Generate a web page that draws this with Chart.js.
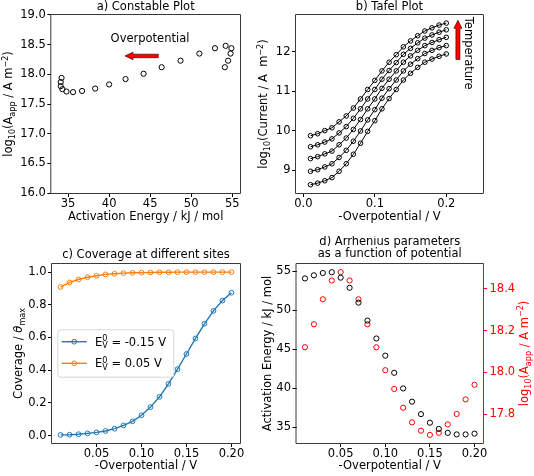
<!DOCTYPE html>
<html>
<head>
<meta charset="utf-8">
<script src="https://cdn.jsdelivr.net/npm/chart.js@4.4.1/dist/chart.umd.min.js"></script>
<style>
  body { margin: 0; background: #fff; }
  #fig { position: relative; width: 534px; height: 476px; overflow: hidden; }
  #fig canvas { position: absolute; }
</style>
</head>
<body>
<div id="fig">
  <canvas id="chartA" width="255" height="236" style="left:0;top:0"></canvas>
  <canvas id="chartB" width="279" height="236" style="left:255px;top:0"></canvas>
  <canvas id="chartC" width="255" height="240" style="left:0;top:236px"></canvas>
  <canvas id="chartD" width="279" height="240" style="left:255px;top:236px"></canvas>
</div>
<script>
// values
const overpotential = [0.01, 0.02, 0.03, 0.04, 0.05, 0.06, 0.07, 0.08, 0.09, 0.10, 0.11, 0.12, 0.13, 0.14, 0.15, 0.16, 0.17, 0.18, 0.19, 0.20];
const activationEnergy = [54.1, 54.5, 54.8, 54.9, 54.2, 52.9, 51.0, 48.7, 46.4, 44.2, 42.0, 40.0, 38.3, 36.7, 35.6, 34.8, 34.3, 34.1, 34.1, 34.2];
const logPrefactor = [18.12, 18.23, 18.35, 18.44, 18.48, 18.44, 18.35, 18.23, 18.12, 18.01, 17.92, 17.83, 17.76, 17.72, 17.70, 17.71, 17.75, 17.80, 17.87, 17.94];

// b) tafel curves, lowest to highest temperature
const tafelT1 = [8.64, 8.68, 8.74, 8.82, 8.98, 9.17, 9.41, 9.69, 9.99, 10.26, 10.56, 10.82, 11.05, 11.29, 11.46, 11.61, 11.74, 11.82, 11.89, 11.95];
const tafelT2 = [8.98, 9.02, 9.09, 9.17, 9.33, 9.51, 9.74, 10.00, 10.28, 10.54, 10.83, 11.07, 11.29, 11.52, 11.69, 11.83, 11.96, 12.04, 12.11, 12.16];
const tafelT3 = [9.30, 9.35, 9.42, 9.49, 9.65, 9.82, 10.04, 10.29, 10.56, 10.81, 11.08, 11.31, 11.52, 11.74, 11.90, 12.04, 12.16, 12.24, 12.31, 12.37];
const tafelT4 = [9.60, 9.65, 9.72, 9.80, 9.95, 10.11, 10.32, 10.56, 10.81, 11.05, 11.31, 11.53, 11.73, 11.94, 12.09, 12.23, 12.35, 12.43, 12.50, 12.56];
const tafelT5 = [9.88, 9.93, 10.01, 10.08, 10.23, 10.38, 10.58, 10.81, 11.05, 11.28, 11.52, 11.74, 11.93, 12.13, 12.28, 12.41, 12.53, 12.61, 12.68, 12.73];

// c) coverage
const coverageLow = [0.004, 0.005, 0.008, 0.013, 0.019, 0.028, 0.042, 0.062, 0.087, 0.124, 0.174, 0.237, 0.316, 0.406, 0.499, 0.594, 0.684, 0.763, 0.826, 0.874];
const coverageHigh = [0.909, 0.937, 0.955, 0.969, 0.978, 0.986, 0.990, 0.994, 0.996, 0.997, 0.998, 0.999, 0.999, 1.0, 1.0, 1.0, 1.0, 1.0, 1.0, 1.0];
const siteEnergies = ['-0.15', '0.05'];

// tick labels
const ticksA_x = [35, 40, 45, 50, 55];
const ticksA_y = [16.0, 16.5, 17.0, 17.5, 18.0, 18.5, 19.0];
const ticksB_x = [0.0, 0.1, 0.2];
const ticksB_y = [9, 10, 11, 12];
const ticksCD_x = [0.05, 0.10, 0.15, 0.20];
const ticksC_y = [0.0, 0.2, 0.4, 0.6, 0.8, 1.0];
const ticksD_y = [35, 40, 45, 50, 55];
const ticksD_y2 = [17.8, 18.0, 18.2, 18.4];

const FS = 11.5;
const FAM = '"DejaVu Sans", sans-serif';
Chart.defaults.font.family = FAM;
Chart.defaults.font.size = FS;
Chart.defaults.color = '#000';
Chart.defaults.animation = false;

function pts(ys) { return overpotential.map((x, i) => ({ x: x, y: ys[i] })); }

function linAxis(o) {
  return {
    type: 'linear',
    position: o.pos,
    min: o.min, max: o.max,
    bounds: 'data',
    afterBuildTicks: s => { s.ticks = o.ticks.map(v => ({ value: v })); },
    afterFit: s => { if (o.pos === 'bottom') s.height = o.size; else s.width = o.size; },
    ticks: {
      callback: v => Number(v).toFixed(o.dec),
      padding: o.pad !== undefined ? o.pad : (o.pos === 'bottom' ? 0 : 1.5),
      color: o.color || '#000',
      font: { size: FS, lineHeight: 1.2 },
      maxRotation: 0, autoSkip: false
    },
    grid: { drawOnChartArea: false, drawTicks: true, tickLength: 4, color: o.color || '#000', lineWidth: 1 },
    border: { display: false },
    title: o.title ? { display: true, text: o.title, padding: { top: 0, bottom: o.tpad }, font: { size: FS, lineHeight: 1.2 } } : { display: false }
  };
}

// text with sub/superscripts, drawn like matplotlib mathtext
function richText(ctx, segs, cx, cy, rot, color, align) {
  ctx.save();
  ctx.translate(cx, cy);
  ctx.rotate(rot);
  ctx.fillStyle = color;
  ctx.textBaseline = 'alphabetic';
  ctx.textAlign = 'left';
  const parts = [];
  let total = 0, prev = null;
  segs.forEach(s => {
    const small = s.sub || s.sup;
    const font = (s.it ? 'italic ' : '') + (small ? FS * 0.7 : FS) + 'px ' + FAM;
    ctx.font = font;
    const w = ctx.measureText(s.t).width;
    let adv = s.stack ? 0 : w;
    if (prev && prev.s.stack) adv = Math.max(w, prev.w);
    const p = { s: s, font: font, w: w, x: total };
    total += adv;
    parts.push(p); prev = p;
  });
  const x0 = align === 'center' ? -total / 2 : 0;
  const yb = FS * 0.36;
  parts.forEach(p => {
    ctx.font = p.font;
    const dy = p.s.sub ? FS * 0.22 : p.s.sup ? -FS * 0.42 : 0;
    ctx.fillText(p.s.t, x0 + p.x, yb + dy);
  });
  ctx.restore();
}

const logAppSegs = [{ t: 'log' }, { t: '10', sub: true }, { t: '(A' }, { t: 'app', sub: true }, { t: ' / A m' }, { t: '\u22122', sup: true }, { t: ')' }];

const extras = {
  id: 'extras',
  afterDatasetsDraw(chart, args, opts) {
    const ctx = chart.ctx, a = chart.chartArea;
    const xs = chart.scales.x, ys = chart.scales.y;
    // arrows
    (opts.arrows || []).forEach(ar => {
      const p0 = { x: xs.getPixelForValue(ar.x0), y: ys.getPixelForValue(ar.y0) };
      const p1 = { x: xs.getPixelForValue(ar.x1), y: ys.getPixelForValue(ar.y1) };
      const dx = p1.x - p0.x, dy = p1.y - p0.y, len = Math.hypot(dx, dy);
      const ux = dx / len, uy = dy / len, nx = -uy, ny = ux;
      const bw = ar.body / 2, hw = ar.head / 2;
      const nb = { x: p1.x - ux * ar.headLen, y: p1.y - uy * ar.headLen };
      ctx.save();
      ctx.beginPath();
      ctx.moveTo(p0.x + nx * bw, p0.y + ny * bw);
      ctx.lineTo(nb.x + nx * bw, nb.y + ny * bw);
      ctx.lineTo(nb.x + nx * hw, nb.y + ny * hw);
      ctx.lineTo(p1.x, p1.y);
      ctx.lineTo(nb.x - nx * hw, nb.y - ny * hw);
      ctx.lineTo(nb.x - nx * bw, nb.y - ny * bw);
      ctx.lineTo(p0.x - nx * bw, p0.y - ny * bw);
      ctx.closePath();
      ctx.fillStyle = '#ff0000';
      ctx.fill();
      ctx.strokeStyle = 'rgba(60,0,0,0.85)';
      ctx.lineWidth = 0.8;
      ctx.stroke();
      ctx.restore();
    });
    // text notes in data coordinates
    (opts.notes || []).forEach(n => {
      ctx.save();
      ctx.translate(xs.getPixelForValue(n.x), ys.getPixelForValue(n.y));
      ctx.rotate(n.rot || 0);
      ctx.font = FS + 'px ' + FAM;
      ctx.fillStyle = '#000';
      ctx.textAlign = n.align || 'center';
      ctx.textBaseline = 'middle';
      ctx.fillText(n.text, 0, 0);
      ctx.restore();
    });
    // legend box
    if (opts.legend) {
      const lg = opts.legend;
      const bx = a.left + lg.dx, by = a.top + lg.dy;
      ctx.save();
      ctx.beginPath();
      ctx.roundRect(bx + 0.5, by + 0.5, lg.w, lg.h, 3);
      ctx.fillStyle = 'rgba(255,255,255,0.8)';
      ctx.fill();
      ctx.strokeStyle = '#d6d6d6';
      ctx.lineWidth = 1;
      ctx.stroke();
      chart.data.datasets.forEach((ds, i) => {
        const ry = by + lg.rows[i];
        ctx.strokeStyle = ds.borderColor;
        ctx.lineWidth = ds.borderWidth;
        ctx.beginPath();
        ctx.moveTo(bx + 4.4, ry);
        ctx.lineTo(bx + 29.4, ry);
        ctx.stroke();
        ctx.lineWidth = 1;
        ctx.beginPath();
        ctx.arc(bx + 16.9, ry, ds.pointRadius, 0, Math.PI * 2);
        ctx.stroke();
        richText(ctx, [{ t: 'E' }, { t: '0', sup: true, stack: true }, { t: 'V', sub: true }, { t: ' = ' + siteEnergies[i] + ' V' }],
          bx + 37.7, ry, 0, '#000', 'left');
      });
      ctx.restore();
    }
    // y axis titles
    (opts.yTitles || []).forEach(t => {
      richText(ctx, t.segs, t.x, (a.top + a.bottom) / 2, -Math.PI / 2, t.color || '#000', 'center');
    });
    // frame (spines)
    ctx.save();
    ctx.lineWidth = 1;
    const L = a.left - 0.5, R = a.right + 0.5, T = a.top - 0.5, B = a.bottom + 0.5;
    ctx.strokeStyle = '#3a3a3a';
    ctx.beginPath();
    ctx.moveTo(R, T); ctx.lineTo(L, T); ctx.lineTo(L, B); ctx.lineTo(R, B);
    ctx.stroke();
    ctx.strokeStyle = opts.rightColor || '#3a3a3a';
    ctx.beginPath();
    ctx.moveTo(R, T); ctx.lineTo(R, B);
    ctx.stroke();
    ctx.restore();
  }
};

function titleOpts(text, lh, pt, pb) {
  return { display: true, text: text, fullSize: false, color: '#000',
    font: { size: FS, weight: 'normal', lineHeight: lh }, padding: { top: pt, bottom: pb } };
}

function openCircles(color, r) {
  return { pointStyle: 'circle', pointRadius: r, pointBorderWidth: 1,
    pointBackgroundColor: 'rgba(0,0,0,0)', pointBorderColor: color, borderColor: color };
}

const baseOpts = { responsive: false, animation: false, events: [] };

// a) Constable plot
new Chart(document.getElementById('chartA'), {
  type: 'scatter',
  data: { datasets: [Object.assign({
    label: 'Constable',
    data: activationEnergy.map((e, i) => ({ x: e, y: logPrefactor[i] }))
  }, openCircles('#000', 2.6))] },
  options: Object.assign({}, baseOpts, {
    layout: { padding: { top: 0, left: 0, right: 15, bottom: 0 } },
    scales: {
      x: linAxis({ pos: 'bottom', min: 32.95, max: 55.95, ticks: ticksA_x, dec: 0, size: 43, title: 'Activation Energy / kJ / mol', tpad: 11.8 }),
      y: linAxis({ pos: 'left', min: 16.0, max: 19.0, ticks: ticksA_y, dec: 1, size: 51.3 })
    },
    plugins: {
      legend: { display: false }, tooltip: { enabled: false },
      title: titleOpts('a) Constable Plot', 1.2, 0, 1.2),
      extras: {
        arrows: [{ x0: 45.99, y0: 18.31, x1: 41.93, y1: 18.31, body: 3.5, head: 7.5, headLen: 8 }],
        notes: [{ text: 'Overpotential', x: 44.98, y: 18.595 }],
        yTitles: [{ segs: logAppSegs, x: 8.3 }]
      }
    }
  }),
  plugins: [extras]
});

// b) Tafel plot
const tafelSets = [tafelT1, tafelT2, tafelT3, tafelT4, tafelT5].map((arr, i) => Object.assign({
  label: 'T' + (i + 1), data: pts(arr), showLine: true, borderWidth: 1, tension: 0
}, openCircles('#000', 2.3)));
new Chart(document.getElementById('chartB'), {
  type: 'scatter',
  data: { datasets: tafelSets },
  options: Object.assign({}, baseOpts, {
    layout: { padding: { top: 0, left: 0, right: 51, bottom: 0 } },
    scales: {
      x: linAxis({ pos: 'bottom', min: -0.0103, max: 0.2514, ticks: ticksB_x, dec: 1, size: 43, title: '-Overpotential / V', tpad: 11.8 }),
      y: linAxis({ pos: 'left', min: 8.43, max: 12.935, ticks: ticksB_y, dec: 0, size: 41 })
    },
    plugins: {
      legend: { display: false }, tooltip: { enabled: false },
      title: titleOpts('b) Tafel Plot', 1.2, 0, 1.2),
      extras: {
        arrows: [{ x0: 0.2163, y0: 11.81, x1: 0.2163, y1: 12.80, body: 4, head: 8, headLen: 8 }],
        notes: [{ text: 'Temperature', x: 0.230, y: 12.89, rot: Math.PI / 2, align: 'left' }],
        yTitles: [{ segs: [{ t: 'log' }, { t: '10', sub: true }, { t: '(Current / A  m' }, { t: '\u22122', sup: true }, { t: ')' }], x: 8.3 }]
      }
    }
  }),
  plugins: [extras]
});

// c) coverage
new Chart(document.getElementById('chartC'), {
  type: 'scatter',
  data: { datasets: [
    Object.assign({ label: 'E0V = -0.15 V', data: pts(coverageLow), showLine: true, borderWidth: 1.4, tension: 0 }, openCircles('#1f77b4', 2.4)),
    Object.assign({ label: 'E0V = 0.05 V', data: pts(coverageHigh), showLine: true, borderWidth: 1.4, tension: 0 }, openCircles('#ff7f0e', 2.4))
  ] },
  options: Object.assign({}, baseOpts, {
    layout: { padding: { top: 0, left: 0, right: 15, bottom: 0 } },
    scales: {
      x: linAxis({ pos: 'bottom', min: 0.0005, max: 0.2095, ticks: ticksCD_x, dec: 2, size: 33, title: '-Overpotential / V', tpad: 3.1 }),
      y: linAxis({ pos: 'left', min: -0.0458, max: 1.0498, ticks: ticksC_y, dec: 1, size: 52 })
    },
    plugins: {
      legend: { display: false }, tooltip: { enabled: false },
      title: titleOpts('c) Coverage at different sites', 1.2, 12.1, 2.1),
      extras: {
        legend: { dx: 5.3, dy: 65.3, w: 116, h: 47.4, rows: [12.4, 34] },
        yTitles: [{ segs: [{ t: 'Coverage / ' }, { t: '\u03b8', it: true }, { t: 'max', sub: true }], x: 18.3 }]
      }
    }
  }),
  plugins: [extras]
});

// d) Arrhenius parameters
new Chart(document.getElementById('chartD'), {
  type: 'scatter',
  data: { datasets: [
    Object.assign({ label: 'Activation energy', data: pts(activationEnergy), yAxisID: 'y' }, openCircles('#000', 2.6)),
    Object.assign({ label: 'log10 A', data: pts(logPrefactor), yAxisID: 'y2' }, openCircles('#ff0000', 2.6))
  ] },
  options: Object.assign({}, baseOpts, {
    layout: { padding: { top: 0, left: 0, right: 0, bottom: 0 } },
    scales: {
      x: linAxis({ pos: 'bottom', min: 0.0005, max: 0.2095, ticks: ticksCD_x, dec: 2, size: 33, title: '-Overpotential / V', tpad: 3.1 }),
      y: linAxis({ pos: 'left', min: 33.0, max: 55.95, ticks: ticksD_y, dec: 0, size: 41.5 }),
      y2: linAxis({ pos: 'right', min: 17.661, max: 18.519, ticks: ticksD_y2, dec: 1, size: 51, color: '#ff0000', pad: 2.5 })
    },
    plugins: {
      legend: { display: false }, tooltip: { enabled: false },
      title: titleOpts(['d) Arrhenius parameters', 'as a function of potential'], 1.07, 0, 3.4),
      extras: {
        rightColor: '#ff0000',
        yTitles: [
          { segs: [{ t: 'Activation Energy / kJ / mol' }], x: 11.5 },
          { segs: logAppSegs, x: 269, color: '#ff0000' }
        ]
      }
    }
  }),
  plugins: [extras]
});
</script>
</body>
</html>
